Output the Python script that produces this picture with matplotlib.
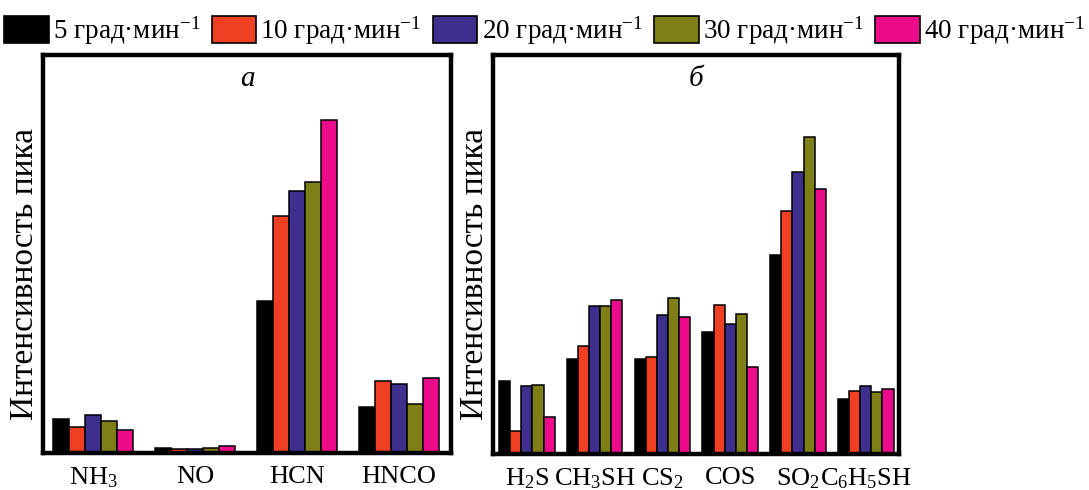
import numpy as np
import matplotlib
matplotlib.use("Agg")
import matplotlib.pyplot as plt
from matplotlib.patches import Rectangle

plt.rcParams['font.family'] = ['Liberation Serif', 'DejaVu Serif']
plt.rcParams['mathtext.fontset'] = 'custom'
plt.rcParams['mathtext.rm'] = 'Liberation Serif'
plt.rcParams['mathtext.it'] = 'Liberation Serif:italic'

rates = ['5 град·мин$^{-1}$', '10 град·мин$^{-1}$', '20 град·мин$^{-1}$',
         '30 град·мин$^{-1}$', '40 град·мин$^{-1}$']
colors = ['#000000', '#F04023', '#3E2F8E', '#7E7E16', '#EC0B8B']

cats_a = ['NH$_3$', 'NO', 'HCN', 'HNCO']
vals_a = {
    '5':  [100, 15, 455, 137],
    '10': [77, 12, 706, 215],
    '20': [113, 13, 782, 207],
    '30': [97, 14, 808, 147],
    '40': [68, 20, 993, 225],
}

cats_b = ['H$_2$S', 'CH$_3$SH', 'CS$_2$', 'COS', 'SO$_2$', 'C$_6$H$_5$SH']
vals_b = {
    '5':  [217, 283, 285, 365, 595, 165],
    '10': [68, 322, 290, 445, 725, 188],
    '20': [203, 443, 415, 387, 843, 202],
    '30': [207, 443, 465, 417, 947, 185],
    '40': [110, 461, 410, 260, 792, 193],
}
keys = ['5', '10', '20', '30', '40']

fig = plt.figure(figsize=(10.89, 4.90), dpi=100)
ax1 = fig.add_axes([43/1089, 1-453/490, 408/1089, 398/490])
ax2 = fig.add_axes([493/1089, 1-454/490, 406/1089, 399/490])

def draw(ax, cats, vals, w, xlim, ylim, label):
    x = np.arange(len(cats))
    for i, k in enumerate(keys):
        ax.bar(x + (i - 2) * w, vals[k], w, color=colors[i],
               edgecolor='black', linewidth=1.1)
    ax.set_xlim(*xlim)
    ax.set_ylim(0, ylim)
    ax.set_xticks(x)
    ax.set_xticklabels(cats, fontsize=19)
    ax.tick_params(axis='x', length=0, pad=9)
    ax.set_yticks([])
    for s in ax.spines.values():
        s.set_linewidth(3.2)
    ax.text(0.5, 0.94, label, transform=ax.transAxes, ha='center', va='center',
            fontsize=21, style='italic')

draw(ax1, cats_a, vals_a, 0.157, (-0.49, 3.51), 1188, 'а')
draw(ax2, cats_b, vals_b, 0.164, (-0.5, 5.49), 1192, 'б')

fig.text(25/1089, 1-274/490, 'Интенсивность пика', rotation=90,
         ha='center', va='center', fontsize=24)
fig.text(475/1089, 1-274/490, 'Интенсивность пика', rotation=90,
         ha='center', va='center', fontsize=24)

handles = [Rectangle((0, 0), 1, 1, facecolor=c, edgecolor='black', linewidth=1.2)
           for c in colors]
fig.legend(handles, rates, ncol=5, loc='upper center', bbox_to_anchor=(0.5, 1.0),
           frameon=False, fontsize=19.5, handlelength=1.65, handleheight=1.15,
           handletextpad=0.15, columnspacing=0.42, borderaxespad=0.15)

fig.savefig('out.png', dpi=100)
